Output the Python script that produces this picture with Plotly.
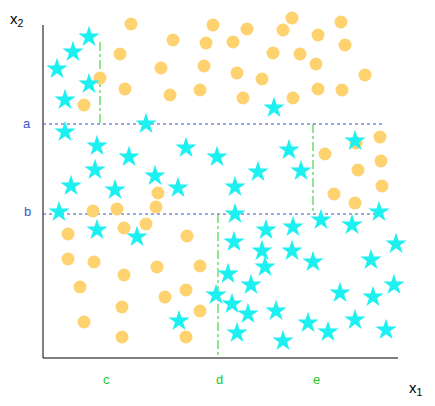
import plotly.graph_objects as go

circ_x=[131,173,213,247,292,341,318,120,161,206,204,233,237,273,283,262,316,100,125,170,200,243,293,84,318,342,365,345,300,
        325,356,380,358,381,334,382,355,
        93,117,156,158,68,124,146,187,68,94,157,200,80,124,186,165,122,84,200,122,186]
circ_y=[24,40,25,29,18,22,35,54,68,43,66,42,73,53,30,79,64,78,89,95,90,98,98,105,89,90,75,45,54,
        154,143,137,170,161,194,186,203,
        211,209,207,193,234,228,224,236,259,262,267,266,287,275,290,297,307,322,311,337,337]
star_x=[89,73,57,89,65,274,146,65,186,97,129,217,289,155,95,178,71,235,258,301,355,59,97,137,235,266,293,321,379,352,115,
        234,262,292,313,371,396,216,228,265,251,340,373,394,179,232,248,276,308,328,355,386,237,283]
star_y=[37,52,69,84,100,108,124,132,148,146,157,157,150,176,170,188,186,187,172,171,141,212,230,237,214,230,227,220,212,225,190,
        242,251,251,262,260,244,295,274,267,285,293,297,285,321,304,314,311,323,332,320,330,333,341]

fig=go.Figure()
fig.add_trace(go.Scatter(x=circ_x,y=circ_y,mode='markers',marker=dict(symbol='circle',size=13,color='#FED26F')))
fig.add_trace(go.Scatter(x=star_x,y=star_y,mode='markers',marker=dict(symbol='star',size=16,color='#1DF0F0')))
shapes=[dict(type='line',x0=43,x1=43,y0=25,y1=358,line=dict(color='black',width=1)),
        dict(type='line',x0=43,x1=398,y0=358,y1=358,line=dict(color='black',width=1)),
        dict(type='line',x0=43,x1=385,y0=124,y1=124,line=dict(color='#3355CC',width=1,dash='dot')),
        dict(type='line',x0=43,x1=385,y0=214,y1=214,line=dict(color='#3355CC',width=1,dash='dot')),
        dict(type='line',x0=100,x1=100,y0=42,y1=124,line=dict(color='#22CC22',width=1,dash='dashdot')),
        dict(type='line',x0=218,x1=218,y0=214,y1=358,line=dict(color='#22CC22',width=1,dash='dashdot')),
        dict(type='line',x0=313,x1=313,y0=124,y1=214,line=dict(color='#22CC22',width=1,dash='dashdot'))]
for s in shapes: s.update(xref='x',yref='y',layer='below')
ann=[dict(x=27,y=123,text='a',font=dict(color='#3355CC',size=13)),
     dict(x=27,y=211,text='b',font=dict(color='#3355CC',size=13)),
     dict(x=106,y=379,text='c',font=dict(color='#22CC22',size=13)),
     dict(x=219,y=379,text='d',font=dict(color='#22CC22',size=13)),
     dict(x=316,y=379,text='e',font=dict(color='#22CC22',size=13)),
     dict(x=17,y=19,text='x<sub>2</sub>',font=dict(color='black',size=15)),
     dict(x=416,y=388,text='x<sub>1</sub>',font=dict(color='black',size=15))]
for a in ann: a.update(xref='x',yref='y',showarrow=False)
fig.update_layout(width=427,height=398,margin=dict(l=0,r=0,t=0,b=0),plot_bgcolor='white',paper_bgcolor='white',
    showlegend=False,shapes=shapes,annotations=ann,font=dict(family='Liberation Sans'),
    xaxis=dict(range=[8,435],visible=False),yaxis=dict(range=[406,8],visible=False))
fig.write_html('out.html')
